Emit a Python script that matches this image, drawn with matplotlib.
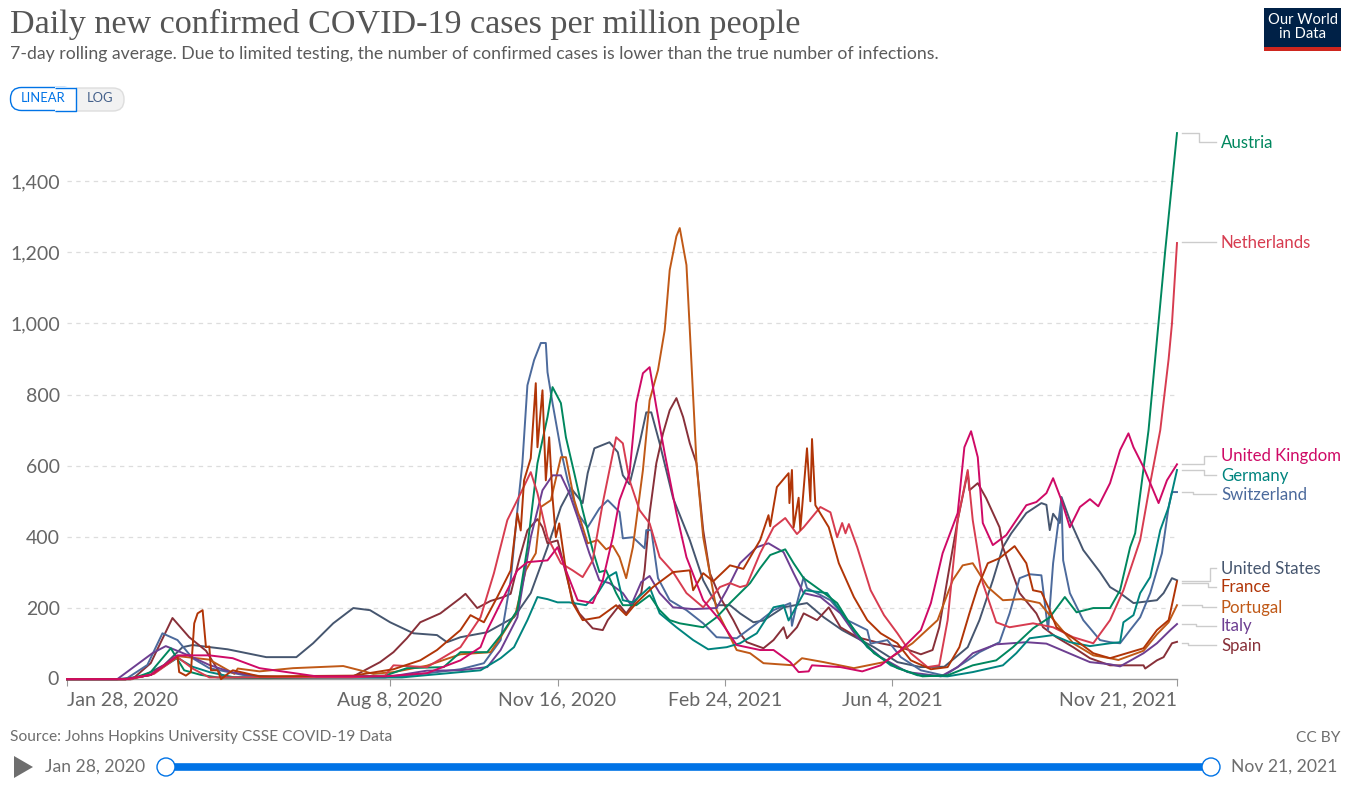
# Daily new confirmed COVID-19 cases per million, OWID style
import matplotlib
matplotlib.use("Agg")
import matplotlib.pyplot as plt
from matplotlib.patches import FancyBboxPatch, Rectangle, Polygon, Circle

# days since Jan 28, 2020 and cases per million
us_days = [0, 30, 45, 58, 69, 75, 96, 119, 137, 147, 159, 171, 181, 193, 207, 221, 227, 235, 251, 267, 277, 287, 295, 301, 308, 311, 315, 324, 329, 332, 336, 342, 346, 349, 354, 362, 372, 380, 388, 396, 402, 410, 416, 428, 442, 452, 463, 482, 496, 510, 524, 538, 545, 553, 559, 564, 573, 582, 585, 587, 589, 593, 594, 599, 607, 617, 623, 629, 637, 651, 655, 660, 663]
us_vals = [0, 0, 8, 40, 90, 96, 84, 62, 62, 101, 157, 200, 194, 160, 129, 124, 104, 118, 132, 174, 242, 371, 484, 537, 495, 579, 649, 666, 638, 573, 548, 663, 750, 750, 663, 509, 391, 278, 208, 208, 185, 160, 165, 202, 214, 174, 138, 90, 48, 34, 35, 90, 166, 278, 371, 410, 467, 495, 490, 419, 465, 439, 512, 447, 363, 301, 259, 242, 214, 222, 242, 284, 278]

spain_days = [0, 39, 50, 63, 73, 83, 93, 120, 171, 187, 195, 203, 211, 223, 235, 238, 245, 253, 260, 265, 270, 275, 281, 284, 287, 293, 298, 302, 306, 314, 320, 323, 330, 334, 343, 345, 348, 352, 356, 360, 364, 368, 372, 376, 380, 384, 390, 398, 402, 406, 416, 422, 428, 430, 436, 440, 448, 455, 462, 472, 486, 498, 510, 517, 521, 527, 532, 538, 539, 544, 549, 557, 559, 563, 569, 579, 583, 591, 601, 611, 623, 643, 644, 651, 655, 660, 663]
spain_vals = [0, 0, 45, 172, 118, 80, 5, 5, 8, 48, 76, 115, 160, 185, 228, 240, 200, 220, 230, 240, 335, 418, 450, 427, 382, 390, 298, 222, 185, 143, 138, 166, 208, 185, 242, 306, 466, 607, 691, 756, 790, 737, 663, 607, 419, 298, 231, 166, 129, 104, 87, 110, 146, 115, 146, 185, 166, 202, 146, 118, 101, 90, 70, 82, 146, 312, 447, 582, 531, 551, 509, 427, 371, 320, 242, 185, 146, 118, 90, 59, 39, 39, 30, 53, 62, 101, 105]

switzerland_days = [0, 35, 48, 57, 66, 75, 85, 105, 130, 200, 235, 249, 259, 265, 269, 272, 275, 279, 283, 286, 287, 290, 295, 299, 305, 311, 318, 323, 330, 332, 338, 345, 346, 349, 353, 360, 370, 380, 388, 400, 412, 422, 432, 433, 436, 440, 442, 456, 466, 478, 480, 490, 498, 510, 524, 538, 545, 557, 563, 569, 575, 582, 586, 589, 594, 595, 599, 607, 617, 623, 629, 635, 641, 647, 654, 658, 660, 663]
switzerland_vals = [0, 0, 40, 129, 110, 59, 31, 12, 5, 8, 28, 45, 110, 278, 475, 607, 826, 897, 945, 945, 863, 776, 644, 559, 466, 427, 480, 503, 470, 396, 399, 368, 419, 419, 284, 222, 194, 157, 118, 115, 157, 194, 214, 150, 214, 287, 256, 222, 166, 138, 100, 110, 62, 25, 10, 53, 76, 104, 185, 284, 295, 292, 138, 326, 509, 334, 242, 166, 110, 104, 101, 138, 174, 242, 354, 484, 526, 526]

portugal_days = [0, 35, 50, 66, 85, 100, 102, 115, 135, 165, 175, 183, 195, 215, 235, 253, 259, 268, 274, 280, 283, 289, 295, 298, 303, 311, 317, 322, 326, 330, 334, 338, 344, 348, 353, 357, 360, 364, 366, 370, 372, 376, 380, 388, 400, 408, 416, 434, 439, 452, 470, 488, 505, 520, 529, 535, 541, 550, 559, 570, 581, 591, 601, 613, 623, 628, 643, 651, 658, 663]
portugal_vals = [0, 0, 12, 65, 55, 15, 30, 22, 31, 37, 25, 15, 20, 38, 70, 76, 118, 185, 306, 354, 484, 503, 624, 624, 503, 382, 391, 365, 375, 343, 284, 371, 588, 784, 869, 981, 1150, 1245, 1268, 1164, 981, 607, 399, 194, 82, 73, 45, 39, 59, 48, 31, 48, 101, 166, 278, 320, 326, 259, 222, 225, 214, 157, 101, 67, 59, 54, 80, 126, 160, 208]

italy_days = [0, 30, 51, 59, 72, 85, 98, 115, 190, 215, 235, 251, 259, 269, 277, 284, 290, 295, 300, 305, 312, 318, 324, 332, 337, 343, 348, 354, 362, 374, 388, 394, 402, 412, 419, 428, 434, 440, 450, 462, 472, 486, 502, 522, 532, 541, 555, 573, 585, 597, 611, 623, 629, 643, 651, 659, 663]
italy_vals = [0, 0, 73, 93, 68, 40, 20, 7, 5, 24, 25, 34, 82, 174, 399, 531, 573, 573, 523, 455, 354, 278, 270, 242, 208, 273, 290, 242, 202, 197, 200, 250, 326, 371, 382, 357, 298, 242, 231, 185, 118, 62, 20, 8, 34, 73, 98, 104, 100, 76, 48, 42, 36, 73, 101, 138, 155]

germany_days = [0, 35, 50, 66, 75, 85, 100, 150, 200, 235, 247, 259, 267, 275, 281, 287, 293, 300, 310, 317, 323, 328, 332, 338, 348, 354, 364, 374, 383, 394, 402, 412, 422, 428, 431, 441, 454, 466, 478, 492, 508, 526, 541, 559, 567, 575, 589, 599, 611, 623, 629, 631, 637, 641, 647, 653, 658, 663]
germany_vals = [0, 0, 12, 60, 35, 20, 5, 4, 5, 20, 25, 59, 90, 166, 231, 225, 216, 216, 208, 242, 287, 301, 222, 216, 259, 185, 146, 110, 84, 90, 101, 129, 202, 208, 165, 250, 242, 166, 90, 39, 11, 8, 20, 39, 73, 115, 124, 104, 93, 101, 104, 160, 180, 242, 287, 419, 484, 588]

austria_days = [0, 38, 50, 62, 70, 80, 90, 120, 190, 203, 225, 235, 251, 260, 269, 275, 281, 287, 290, 295, 298, 303, 308, 314, 318, 322, 328, 332, 340, 348, 354, 360, 366, 380, 388, 396, 402, 408, 414, 420, 429, 434, 440, 450, 460, 470, 482, 496, 511, 526, 541, 555, 565, 577, 587, 596, 603, 613, 623, 629, 635, 638, 646, 656, 663]
austria_vals = [0, 0, 20, 87, 25, 12, 5, 3, 10, 31, 34, 76, 76, 129, 194, 371, 607, 737, 821, 776, 680, 579, 475, 363, 301, 306, 242, 208, 208, 236, 194, 166, 157, 146, 174, 214, 242, 270, 312, 349, 365, 326, 284, 250, 214, 138, 73, 31, 8, 11, 39, 53, 90, 143, 174, 231, 188, 200, 200, 250, 371, 410, 700, 1206, 1535]

netherlands_days = [0, 38, 52, 66, 75, 85, 170, 190, 195, 215, 235, 247, 255, 263, 271, 277, 281, 287, 295, 302, 308, 314, 320, 328, 332, 336, 342, 348, 354, 362, 370, 380, 390, 396, 402, 406, 414, 422, 429, 436, 440, 450, 456, 460, 463, 465, 467, 472, 480, 488, 496, 504, 514, 521, 526, 532, 538, 541, 547, 555, 563, 577, 589, 601, 613, 623, 631, 641, 647, 653, 658, 660, 663]
netherlands_vals = [0, 0, 15, 62, 30, 5, 5, 10, 39, 34, 90, 174, 298, 447, 523, 582, 523, 399, 326, 306, 287, 334, 495, 680, 663, 559, 475, 438, 343, 301, 242, 202, 259, 270, 259, 264, 354, 427, 453, 408, 427, 484, 469, 399, 439, 410, 436, 371, 250, 180, 129, 73, 34, 39, 166, 447, 588, 447, 270, 160, 146, 157, 146, 118, 101, 166, 250, 391, 551, 700, 900, 1000, 1226]

france_days = [0, 35, 50, 66, 67, 71, 74, 76, 78, 81, 83, 85, 86, 90, 92, 96, 99, 115, 171, 195, 211, 221, 235, 241, 249, 257, 265, 269, 271, 273, 277, 280, 281, 284, 286, 288, 290, 292, 294, 298, 302, 308, 318, 328, 334, 340, 350, 362, 372, 374, 380, 386, 396, 404, 414, 419, 420, 424, 431, 431.5, 433, 434, 437, 438, 442, 444, 445, 447, 455, 461, 470, 478, 486, 496, 504, 516, 526, 533, 539, 544, 550, 557, 566, 573, 577, 582, 587, 591, 601, 613, 623, 643, 651, 658, 661, 663]
france_vals = [0, 0, 12, 65, 20, 10, 20, 157, 185, 194, 90, 92, 25, 25, 0, 15, 25, 8, 10, 28, 53, 82, 138, 180, 160, 231, 306, 466, 418, 559, 621, 832, 652, 812, 559, 680, 511, 399, 438, 306, 214, 166, 174, 208, 180, 214, 259, 301, 306, 250, 298, 275, 320, 310, 391, 461, 430, 540, 579, 495, 588, 427, 510, 420, 649, 500, 675, 489, 427, 326, 231, 166, 129, 101, 53, 28, 34, 90, 185, 259, 326, 340, 374, 326, 250, 245, 194, 146, 115, 73, 59, 87, 138, 166, 231, 275]

uk_days = [0, 35, 50, 66, 85, 99, 115, 149, 190, 215, 235, 247, 251, 259, 269, 275, 287, 293, 298, 305, 314, 320, 326, 330, 336, 340, 344, 348, 352, 357, 364, 370, 380, 390, 400, 414, 422, 432, 437, 443, 445, 462, 475, 486, 498, 510, 516, 523, 532, 536, 540, 544, 547, 553, 561, 573, 579, 585, 589, 594, 599, 605, 611, 616, 623, 629, 634, 637, 643, 652, 657, 663]
uk_vals = [0, 0, 12, 67, 67, 59, 31, 8, 8, 17, 53, 90, 138, 214, 306, 329, 334, 371, 306, 222, 214, 278, 399, 503, 579, 776, 860, 877, 765, 635, 467, 343, 222, 166, 96, 82, 82, 48, 20, 22, 39, 34, 22, 39, 82, 138, 214, 354, 467, 652, 697, 624, 439, 377, 405, 489, 498, 523, 565, 503, 427, 484, 506, 486, 551, 644, 691, 652, 596, 495, 559, 604]

x_ticks = [0, 193, 293, 393, 493, 663]
x_labels = ["Jan 28, 2020", "Aug 8, 2020", "Nov 16, 2020", "Feb 24, 2021", "Jun 4, 2021", "Nov 21, 2021"]
y_ticks = [200, 400, 600, 800, 1000, 1200, 1400]

series = [
    ("United States", us_days, us_vals, "#46566f"),
    ("Spain", spain_days, spain_vals, "#883039"),
    ("Switzerland", switzerland_days, switzerland_vals, "#4c6a9c"),
    ("Portugal", portugal_days, portugal_vals, "#c05917"),
    ("Italy", italy_days, italy_vals, "#6d3e91"),
    ("Germany", germany_days, germany_vals, "#00847e"),
    ("Austria", austria_days, austria_vals, "#00875e"),
    ("Netherlands", netherlands_days, netherlands_vals, "#d73c50"),
    ("France", france_days, france_vals, "#b13507"),
    ("United Kingdom", uk_days, uk_vals, "#cf0a66"),
]
colors = {name: c for name, _, _, c in series}

plt.rcParams["font.family"] = ["Lato", "DejaVu Sans"]

W, H = 1347, 785
fig = plt.figure(figsize=(W / 100, H / 100), dpi=100)

# overlay in pixel coordinates for header, footer and label connectors
bg = fig.add_axes([0, 0, 1, 1])
bg.set_xlim(0, W)
bg.set_ylim(H, 0)
bg.axis("off")

ax = fig.add_axes([67 / W, (H - 679.2) / H, 1110 / W, 560 / H])
ax.patch.set_alpha(0)
ax.set_xlim(0, 663)
ax.set_ylim(0, 1574)

for name, days, vals, color in series:
    ax.plot(days, vals, color=color, lw=1.4, clip_on=False, solid_joinstyle="round", zorder=3)

for sp in ["top", "right", "left"]:
    ax.spines[sp].set_visible(False)
ax.spines["bottom"].set_color("#999999")
ax.spines["bottom"].set_linewidth(1)

ax.set_yticks(y_ticks)
ax.set_yticklabels([f"{v:,}" for v in y_ticks], fontsize=14, color="#666666")
ax.tick_params(axis="y", length=0, pad=5)
ax.grid(axis="y", color="#dddddd", linestyle=(0, (3.5, 3.5)), linewidth=0.9)
ax.set_axisbelow(True)
ax.text(-5, 0, "0", fontsize=14, color="#666666", ha="right", va="center")

ax.set_xticks(x_ticks)
ax.set_xticklabels(x_labels, fontsize=14, color="#666666")
ax.tick_params(axis="x", length=5, color="#999999", pad=4)
xl = ax.get_xticklabels()
xl[0].set_ha("left")
xl[-1].set_ha("right")

# header
bg.text(10, 24, "Daily new confirmed COVID-19 cases per million people", fontsize=24.6,
        family="Liberation Serif", color="#555555", va="center", ha="left")
bg.text(10, 54.5, "7-day rolling average. Due to limited testing, the number of confirmed cases is lower than the true number of infections.",
        fontsize=12.7, color="#5b5b5b", va="center", ha="left")

# logo
bg.add_patch(Rectangle((1264, 8), 77, 43, color="#002147", lw=0))
bg.add_patch(Rectangle((1264, 46.5), 77, 4.5, color="#ce261e", lw=0))
bg.text(1302.5, 27, "Our World\nin Data", color="white", fontsize=10.6, ha="center", va="center", linespacing=1.05)

# linear / log toggle
bg.add_patch(FancyBboxPatch((55, 88), 69, 23, boxstyle="round,pad=0,rounding_size=11", fc="#f2f2f2", ec="#dddddd", lw=1))
bg.add_patch(FancyBboxPatch((10.5, 87.5), 65, 23, boxstyle="round,pad=0,rounding_size=11", fc="white", ec="#0073e6", lw=1))
bg.add_patch(Rectangle((55, 87), 21, 24, fc="white", ec="none", lw=0, zorder=2))
bg.plot([55, 75.5, 75.5, 55], [87.5, 87.5, 110.5, 110.5], color="#0073e6", lw=1, zorder=3, solid_capstyle="butt")
bg.text(43, 98.5, "LINEAR", color="#0073e6", fontsize=9.4, ha="center", va="center", zorder=4)
bg.text(100, 98.5, "LOG", color="#44608a", fontsize=9.4, ha="center", va="center", zorder=4)

# series labels, their y position and connector bends
labels = [
    ("Austria", 142, 133, 1199),
    ("Netherlands", 242, 242, 1199),
    ("United Kingdom", 456, 464, 1204),
    ("Germany", 475, 470, 1204),
    ("Switzerland", 494, 492, 1193),
    ("United States", 568, 581, 1210),
    ("France", 587, 583, 1208),
    ("Portugal", 607, 605, 1202),
    ("Italy", 626, 624, 1196),
    ("Spain", 645, 643, 1188),
]
for name, ly, sy, bend in labels:
    bg.plot([1182, bend, bend, 1216], [sy, sy, ly, ly], color="#cccccc", lw=1)
    bg.text(1221, ly + 0.5, name, color=colors[name], fontsize=12.1, ha="left", va="center")

# footer
bg.text(10, 737.5, "Source: Johns Hopkins University CSSE COVID-19 Data", fontsize=11.15, color="#6e6e6e", va="center")
bg.text(1340, 737.5, "CC BY", fontsize=11.15, color="#6e6e6e", va="center", ha="right")
bg.add_patch(Polygon([(14, 756), (14, 778), (33, 767)], closed=True, color="#6e6e6e", lw=0))
bg.text(45, 767, "Jan 28, 2020", fontsize=12.6, color="#6e6e6e", va="center")
bg.text(1337, 767, "Nov 21, 2021", fontsize=12.6, color="#6e6e6e", va="center", ha="right")
bg.plot([166, 1211], [767, 767], color="#0073e6", lw=5.5, solid_capstyle="butt")
for cx in [166, 1211]:
    bg.add_patch(Circle((cx, 767), 9, fc="white", ec="#0073e6", lw=1, zorder=4))

fig.savefig("out.png", dpi=100)
